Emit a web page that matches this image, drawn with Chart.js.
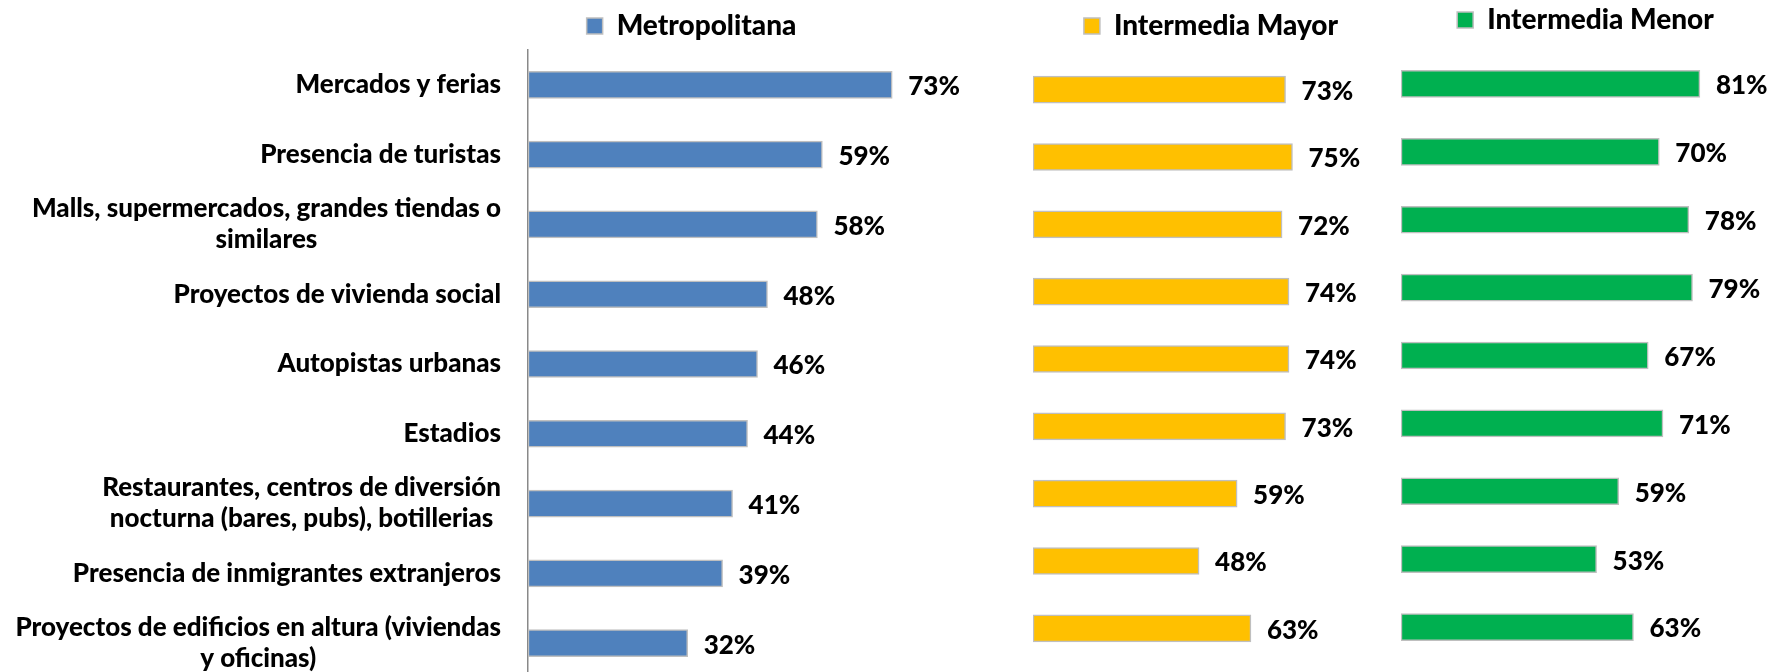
<!DOCTYPE html>
<html><head><meta charset="utf-8">
<script src="https://cdn.jsdelivr.net/npm/chart.js@4.4.1/dist/chart.umd.min.js"></script>
<style>
html,body{margin:0;padding:0;background:#fff;width:1770px;height:672px;overflow:hidden;position:relative}
canvas{position:absolute;top:0}
</style></head><body>
<canvas id="c1" width="1000" height="680" style="left:0px"></canvas>
<canvas id="c2" width="380" height="672" style="left:1010px"></canvas>
<canvas id="c3" width="380" height="672" style="left:1390px"></canvas>
<script>
const categories = [
  ["Mercados y ferias"],
  ["Presencia de turistas"],
  ["Malls, supermercados, grandes tiendas o", "similares"],
  ["Proyectos de vivienda social"],
  ["Autopistas urbanas"],
  ["Estadios"],
  ["Restaurantes, centros de diversión", "nocturna (bares, pubs), botillerias"],
  ["Presencia de inmigrantes extranjeros"],
  ["Proyectos de edificios en altura (viviendas", "y oficinas)"]
];
const seriesNames = ["Metropolitana", "Intermedia Mayor", "Intermedia Menor"];
const metropolitana = [73, 59, 58, 48, 46, 44, 41, 39, 32];
const intermediaMayor = [73, 75, 72, 74, 74, 73, 59, 48, 63];
const intermediaMenor = [81, 70, 78, 79, 67, 71, 59, 53, 63];

const FONT = "Lato, 'Open Sans', sans-serif";
Chart.defaults.font.family = FONT;

const valueLabels = {
  id: 'valueLabels',
  afterDatasetsDraw(chart) {
    const ctx = chart.ctx;
    const meta = chart.getDatasetMeta(0);
    const data = chart.data.datasets[0].data;
    ctx.save();
    ctx.font = "900 26px " + FONT;
    ctx.fillStyle = '#000';
    ctx.textAlign = 'left';
    ctx.textBaseline = 'middle';
    meta.data.forEach((bar, i) => {
      ctx.fillText(data[i] + '%', bar.x + 16, bar.y + 2);
    });
    ctx.restore();
  }
};

const categoryLabels = {
  id: 'categoryLabels',
  afterDraw(chart) {
    const ys = chart.scales.y;
    const ctx = chart.ctx;
    ctx.save();
    ctx.font = "900 26px " + FONT;
    ctx.fillStyle = '#000';
    ctx.textAlign = 'center';
    ctx.textBaseline = 'middle';
    const right = chart.chartArea.left - 27;
    categories.forEach((lines, i) => {
      const cy = ys.getPixelForTick(i);
      const w = Math.max(...lines.map(l => ctx.measureText(l).width));
      const cx = right - w / 2;
      lines.forEach((l, j) => ctx.fillText(l, cx, cy + (j - (lines.length - 1) / 2) * 31));
    });
    ctx.restore();
  }
};

function makeChart(id, name, data, color, cfg) {
  const plugins = [valueLabels];
  if (cfg.catLabels) plugins.push(categoryLabels);
  return new Chart(document.getElementById(id), {
    type: 'bar',
    data: {
      labels: categories.map(c => c.join(' ')),
      datasets: [{
        label: name,
        data: data,
        backgroundColor: color,
        borderColor: '#BFBFBF',
        borderWidth: 1.5,
        borderSkipped: false,
        barThickness: 27
      }]
    },
    options: {
      indexAxis: 'y',
      responsive: false,
      animation: false,
      devicePixelRatio: 1,
      layout: { padding: cfg.padding },
      plugins: {
        legend: {
          display: true,
          position: 'top',
          labels: {
            boxWidth: 16, boxHeight: 16, padding: 4, color: '#000',
            font: { size: 28, weight: '900', family: FONT }
          }
        },
        tooltip: { enabled: false }
      },
      scales: {
        x: {
          position: 'top', min: 0, max: cfg.max,
          display: cfg.gap > 0,
          grid: { display: false }, border: { display: false },
          ticks: { display: false },
          afterFit(s) { s.height = cfg.gap; }
        },
        y: {
          display: cfg.axis,
          grid: { display: false },
          border: { display: true, color: '#898989', width: 1.5 },
          ticks: { display: false },
          afterFit(s) { s.width = cfg.yWidth; }
        }
      }
    },
    plugins: plugins
  });
}

makeChart('c1', seriesNames[0], metropolitana, '#4F81BD',
  { padding: { left: 383, right: 0, top: 8, bottom: 2 }, gap: 0, max: 94.6, axis: true, yWidth: 145, catLabels: true });
makeChart('c2', seriesNames[1], intermediaMayor, '#FFC000',
  { padding: { left: 23, right: 1, top: 8, bottom: 10 }, gap: 6, max: 102.9, axis: false, yWidth: 0 });
makeChart('c3', seriesNames[2], intermediaMenor, '#00B050',
  { padding: { left: 11, right: 0, top: 2, bottom: 11 }, gap: 6, max: 100, axis: false, yWidth: 0 });
</script>
</body></html>
